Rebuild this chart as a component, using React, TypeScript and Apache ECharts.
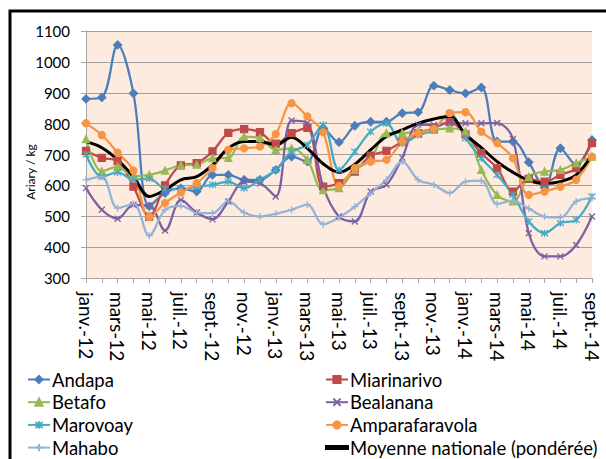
import React, { useEffect, useRef } from "react";
import * as echarts from "echarts";

const categories = [
  "janv.-12", "févr.-12", "mars-12", "avr.-12", "mai-12", "juin-12", "juil.-12", "août-12", "sept.-12", "oct.-12", "nov.-12", "déc.-12",
  "janv.-13", "févr.-13", "mars-13", "avr.-13", "mai-13", "juin-13", "juil.-13", "août-13", "sept.-13", "oct.-13", "nov.-13", "déc.-13",
  "janv.-14", "févr.-14", "mars-14", "avr.-14", "mai-14", "juin-14", "juil.-14", "août-14", "sept.-14",
];

const andapa = [880, 885, 1055, 898, 532, 575, 590, 580, 634, 634, 618, 618, 650, 693, 677, 785, 740, 793, 806, 806, 834, 837, 923, 909, 898, 917, 742, 742, 675, 593, 720, 666, 747];
const miarinarivo = [712, 689, 679, 596, 499, 600, 665, 672, 710, 770, 782, 772, 735, 769, 786, 596, 607, 645, 696, 712, 742, 769, 785, 805, 765, 704, 656, 580, 621, 612, 634, 656, 737];
const betafo = [750, 646, 661, 630, 634, 648, 665, 667, 688, 689, 758, 753, 715, 720, 683, 585, 591, 650, 683, 769, 769, 776, 780, 785, 774, 650, 569, 548, 628, 645, 650, 672, 693];
const bealanana = [591, 521, 492, 537, 535, 454, 553, 512, 490, 548, 612, 607, 564, 810, 801, 596, 499, 483, 580, 602, 690, 796, 796, 802, 801, 801, 802, 750, 445, 370, 370, 407, 499];
const marovoay = [700, 628, 642, 619, 622, 590, 588, 595, 602, 612, 591, 618, 650, 709, 731, 796, 650, 709, 774, 801, 735, 763, 780, 834, 753, 688, 634, 569, 483, 445, 478, 488, 564];
const amparafaravola = [801, 763, 706, 648, 498, 543, 577, 607, 656, 715, 720, 726, 766, 866, 823, 772, 598, 656, 677, 683, 742, 769, 783, 834, 837, 774, 737, 688, 569, 580, 596, 618, 693];
const mahabo = [618, 628, 526, 540, 437, 521, 534, 512, 510, 548, 512, 499, 508, 521, 538, 474, 496, 531, 575, 618, 677, 618, 602, 575, 612, 615, 540, 550, 525, 499, 496, 548, 559];
const moyenne = [742, 722, 683, 628, 564, 585, 618, 628, 666, 720, 742, 742, 731, 756, 720, 670, 642, 668, 715, 758, 780, 801, 815, 823, 765, 722, 677, 642, 616, 606, 612, 634, 699];

const FONT = "Lato, 'Noto Sans', sans-serif";

const CROSS = "path://M0,0L10,10M10,0L0,10";
const STAR = "path://M0,0L10,10M10,0L0,10M5,-1L5,11";
const PLUS = "path://M5,0L5,10M0,5L10,5";
const LINE_ICON = "path://M0,0L22,0L22,3L0,3Z";

export default function App() {
  const ref = useRef<HTMLDivElement>(null);
  useEffect(() => {
    if (!ref.current) return;
    const chart = echarts.init(ref.current, null, { renderer: "svg" });
    const mk = (name: string, data: number[], color: string, symbol: string, size: number, width = 2.25) => ({
      name,
      type: "line",
      data,
      smooth: 0.35,
      symbol,
      symbolSize: size,
      showSymbol: symbol !== "none",
      lineStyle: { color, width },
      itemStyle: { color, borderColor: color, borderWidth: 1.3 },
      emphasis: { disabled: true },
    });
    const legendText = { fontSize: 18.5, color: "#000", fontFamily: FONT, lineHeight: 19, padding: [0, 0, 0, -3] };
    const legendBase = {
      orient: "vertical",
      top: 370,
      height: 140,
      padding: 0,
      itemGap: 3.7,
      itemWidth: 22,
      itemHeight: 9,
      textStyle: legendText,
    };
    chart.setOption({
      animation: false,
      backgroundColor: "#ffffff",
      textStyle: { fontFamily: FONT },
      grid: { left: 86, right: 14, top: 31, bottom: 181, backgroundColor: "#FCEBDE", show: true, borderWidth: 0 },
      xAxis: {
        type: "category",
        data: categories,
        boundaryGap: false,
        axisLine: { lineStyle: { color: "#A6A6A6", width: 1 } },
        axisTick: { show: true, interval: 0, length: 5, lineStyle: { color: "#A6A6A6" } },
        axisLabel: { interval: 1, rotate: -90, fontSize: 19, color: "#000", fontFamily: FONT, margin: 14 },
        splitLine: { show: false },
      },
      yAxis: {
        type: "value",
        min: 300,
        max: 1100,
        interval: 100,
        axisLine: { show: true, lineStyle: { color: "#A6A6A6", width: 1 } },
        axisTick: { show: true, length: 5, lineStyle: { color: "#A6A6A6" } },
        axisLabel: { fontSize: 15, color: "#000", fontFamily: FONT, margin: 16, formatter: (v: number) => String(v) },
        splitLine: { lineStyle: { color: "#A0A0A0", width: 1 } },
      },
      legend: [
        {
          ...legendBase,
          left: 27,
          data: ["Andapa", "Betafo", "Marovoay", "Mahabo"],
        },
        {
          ...legendBase,
          left: 325,
          data: [
            "Miarinarivo",
            "Bealanana",
            "Amparafaravola",
            { name: "Moyenne nationale (pondérée)", icon: LINE_ICON, itemStyle: { color: "#000" } },
          ],
        },
      ],
      graphic: [
        {
          type: "rect",
          shape: { x: 10, y: 11, width: 700, height: 600 },
          style: { fill: "none", stroke: "#000", lineWidth: 3 },
          silent: true,
        },
        {
          type: "text",
          x: 30,
          y: 172,
          rotation: Math.PI / 2,
          style: { text: "Ariary / kg", font: `12px ${FONT}`, fill: "#000", align: "center", verticalAlign: "middle" },
          silent: true,
        },
      ],
      series: [
        mk("Andapa", andapa, "#4A7EBB", "diamond", 8),
        mk("Miarinarivo", miarinarivo, "#BE4B48", "rect", 7),
        mk("Betafo", betafo, "#98B954", "triangle", 7),
        mk("Bealanana", bealanana, "#7D60A0", CROSS, 6),
        mk("Marovoay", marovoay, "#46AAC5", STAR, 7),
        mk("Amparafaravola", amparafaravola, "#F69546", "circle", 7),
        mk("Mahabo", mahabo, "#95B3D7", PLUS, 7),
        mk("Moyenne nationale (pondérée)", moyenne, "#000000", "none", 0, 3),
      ],
    });
    return () => chart.dispose();
  }, []);
  return <div ref={ref} style={{ position: "absolute", left: 0, top: 0, width: 606, height: 459 }} />;
}
